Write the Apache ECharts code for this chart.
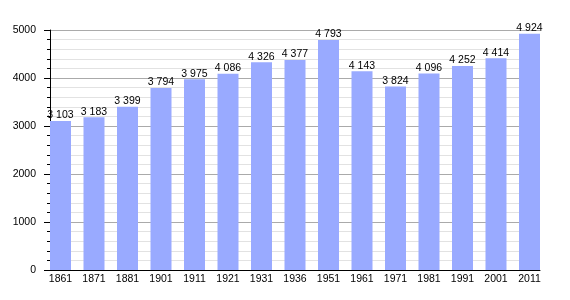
<!DOCTYPE html>
<html>
<head>
<meta charset="utf-8">
<script src="https://cdn.jsdelivr.net/npm/echarts@6/dist/echarts.min.js"></script>
<style>html,body{margin:0;padding:0;background:#fff}#c{width:570px;height:300px}</style>
</head>
<body>
<div id="c"></div>
<script>
var years = ['1861','1871','1881','1901','1911','1921','1931','1936','1951','1961','1971','1981','1991','2001','2011'];
var population = [3103,3183,3399,3794,3975,4086,4326,4377,4793,4143,3824,4096,4252,4414,4924];
var yTicks = [0,1000,2000,3000,4000,5000];

function fmt(v){
  var s = String(v);
  return s.length > 3 ? s.slice(0, s.length-3) + ' ' + s.slice(s.length-3) : s;
}
var font = 'Liberation Sans, Arial, sans-serif';
var chart = echarts.init(document.getElementById('c'), null, {renderer:'canvas'});
chart.setOption({
  animation: false,
  backgroundColor: '#fff',
  grid: [
    {left: 50, right: 30, top: 30, bottom: 30},
    {left: 60.5, right: 40.5, top: 30, bottom: 30}
  ],
  xAxis: [
    {gridIndex: 0, type: 'category', data: years, boundaryGap: false,
     axisLine: {lineStyle: {color: '#000', width: 1}}, axisTick: {show: false}, axisLabel: {show: false}},
    {gridIndex: 1, type: 'category', data: years, boundaryGap: false,
     axisLine: {show: false}, axisTick: {show: false},
     axisLabel: {color: '#000', fontSize: 10.5, fontFamily: font, margin: 4, interval: 0}}
  ],
  yAxis: [
    {gridIndex: 0, type: 'value', min: yTicks[0], max: yTicks[yTicks.length-1], interval: 1000,
     axisLine: {show: true, lineStyle: {color: '#000'}},
     axisTick: {show: true, length: 6, lineStyle: {color: '#000'}},
     minorTick: {show: true, splitNumber: 5, length: 3, lineStyle: {color: '#000'}},
     splitLine: {show: true, lineStyle: {color: '#aaaaaa', width: 1}},
     minorSplitLine: {show: true, lineStyle: {color: '#e2e2e2', width: 1}},
     axisLabel: {color: '#000', fontSize: 10.5, fontFamily: font, margin: 14,
       formatter: function(v){ return String(v); }}},
    {gridIndex: 1, type: 'value', min: yTicks[0], max: yTicks[yTicks.length-1], interval: 1000, show: false}
  ],
  series: [{
    type: 'bar', xAxisIndex: 1, yAxisIndex: 1, data: population, barWidth: 21,
    itemStyle: {color: '#99aaff'},
    label: {show: true, position: 'top', distance: 0, color: '#000', fontSize: 10.5, fontFamily: font,
      formatter: function(p){ return fmt(p.value); }}
  }]
});
</script>
</body>
</html>
